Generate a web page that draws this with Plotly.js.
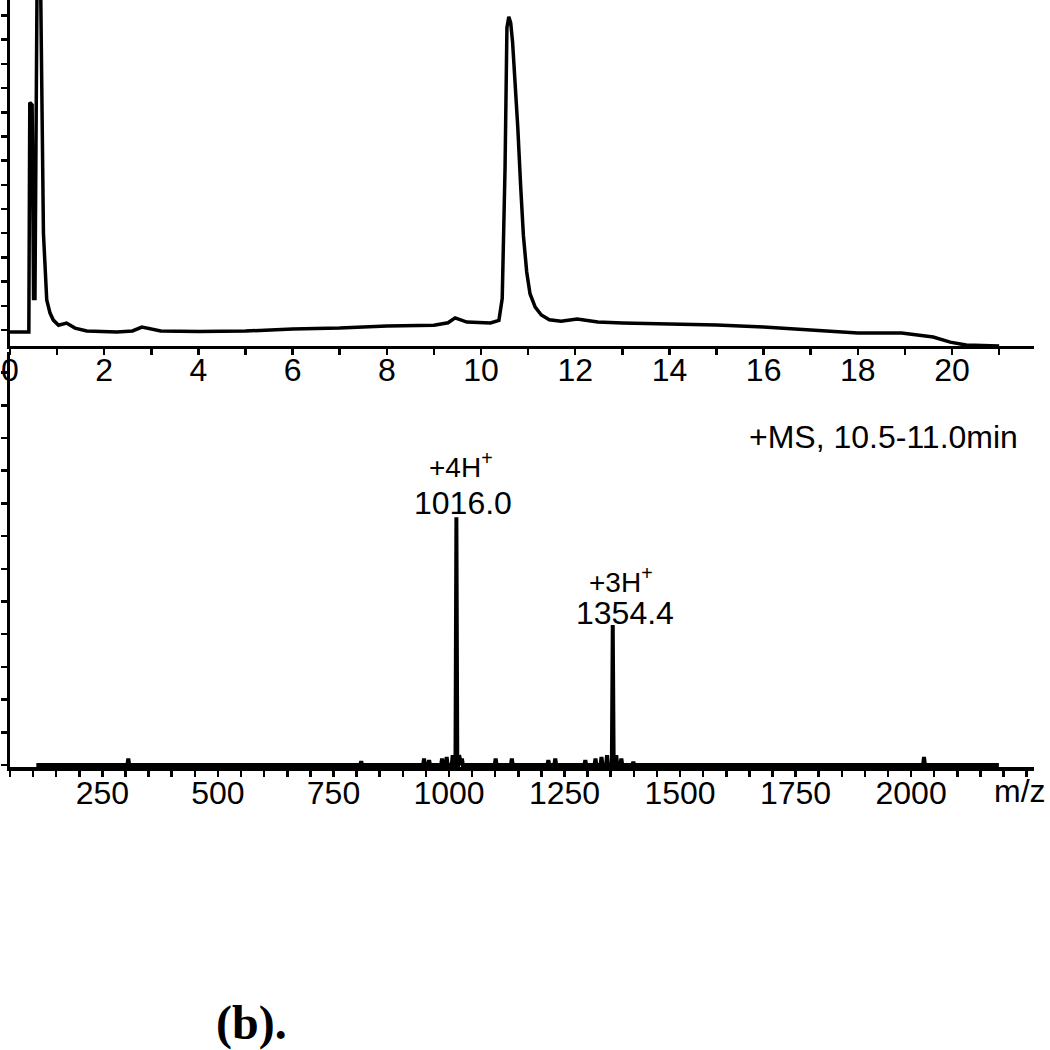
<!DOCTYPE html>
<html>
<head>
<meta charset="utf-8">
<script src="https://cdn.plot.ly/plotly-3.0.1.min.js"></script>
<style>
  html, body { margin: 0; padding: 0; background: #fff; }
  #chart { width: 1050px; height: 1050px; }
</style>
</head>
<body>
<div id="chart"></div>
<script>
// chromatogram (top): time in min, intensity in arbitrary units
const lcTime = [0, 0.38, 0.40, 0.42, 0.47, 0.50, 0.53, 0.58, 0.64, 0.71, 0.74, 0.78, 0.85, 0.92, 1.03, 1.2, 1.38, 1.63, 2.27, 2.6, 2.8, 3.2, 4, 5, 6, 7, 8, 9, 9.3, 9.45, 9.7, 10.2, 10.38, 10.45, 10.51, 10.55, 10.59, 10.63, 10.67, 10.72, 10.78, 10.84, 10.90, 10.97, 11.04, 11.15, 11.28, 11.45, 11.7, 12.04, 12.48, 13, 14, 15, 16, 17, 18, 18.93, 19.6, 19.96, 20.3, 21.0];
const lcSignal = [-0.08, -0.08, -0.08, 9.4, 9.3, 1.3, 1.3, 16, 16, 4.0, 2.4, 1.24, 0.7, 0.41, 0.2, 0.29, 0.08, -0.04, -0.08, -0.04, 0.12, -0.04, -0.06, -0.04, 0.04, 0.08, 0.17, 0.2, 0.3, 0.5, 0.33, 0.29, 0.4, 1.3, 6.7, 12.5, 12.95, 12.7, 11.9, 10.4, 8.4, 6.0, 3.9, 2.4, 1.5, 0.95, 0.62, 0.42, 0.36, 0.45, 0.33, 0.29, 0.25, 0.21, 0.12, 0, -0.12, -0.12, -0.29, -0.5, -0.62, -0.66];

// mass spectrum (bottom)
const msStart = 107, msEnd = 2190, msBase = 0.0;
const msPeaks = [306, 810, 946, 957, 985, 995, 1008, 1016.0, 1022, 1028, 1101, 1136, 1215, 1230, 1295, 1317, 1330, 1342, 1354.4, 1362, 1373, 1399, 2028];
const msHeights = [0.2, 0.12, 0.2, 0.15, 0.2, 0.25, 0.3, 7.58, 0.3, 0.2, 0.2, 0.2, 0.15, 0.2, 0.15, 0.2, 0.25, 0.3, 4.28, 0.3, 0.2, 0.1, 0.25];

const labelPeaks = [1016.0, 1354.4];
const labelHeights = [7.58, 4.28];
const mzLabels = ["1016.0", "1354.4"];
const chargeLabels = ["+4H", "+3H"];

const lcTicks = [0, 2, 4, 6, 8, 10, 12, 14, 16, 18, 20];
const msTicks = [250, 500, 750, 1000, 1250, 1500, 1750, 2000];

// stick spectrum
const msX = [msStart], msY = [msBase];
msPeaks.forEach((m, i) => {
  msX.push(m - 2, m, m + 2);
  msY.push(msBase, msHeights[i], msBase);
});
msX.push(msEnd); msY.push(msBase);

const FONT = "Liberation Sans, Arial, sans-serif";
const black = "#000";

const axisCommon = {
  showline: true, linecolor: black, linewidth: 3.5,
  ticks: "outside", ticklen: 6, tickwidth: 2.5, tickcolor: black,
  showgrid: false, zeroline: false, mirror: false,
  tickfont: { family: FONT, size: 32, color: black }
};

const traces = [
  { type: "scatter", mode: "lines", x: lcTime, y: lcSignal, xaxis: "x", yaxis: "y",
    line: { color: black, width: 3.5 }, hoverinfo: "skip" },
  { type: "scatter", mode: "lines", x: msX, y: msY, xaxis: "x2", yaxis: "y2",
    line: { color: black, width: 4 }, hoverinfo: "skip" }
];

const annotations = [];
labelPeaks.forEach((m, i) => {
  annotations.push({ xref: "x2", yref: "y2", x: m, y: labelHeights[i], text: mzLabels[i],
    showarrow: false, xanchor: "center", yanchor: "middle", xshift: i ? 12 : 7, yshift: i ? 12 : 14,
    font: { family: FONT, size: 32, color: black } });
  annotations.push({ xref: "x2", yref: "y2", x: m, y: labelHeights[i], text: chargeLabels[i] + "<sup>+</sup>",
    showarrow: false, xanchor: "center", yanchor: "middle", xshift: i ? 8 : 5, yshift: i ? 45 : 52,
    font: { family: FONT, size: 28, color: black } });
});
annotations.push({ xref: "paper", yref: "paper", x: 0.986, y: 0.430, text: "+MS, 10.5-11.0min",
  showarrow: false, xanchor: "right", yanchor: "middle", font: { family: FONT, size: 32, color: black } });
annotations.push({ xref: "paper", yref: "paper", x: 0.986, y: -0.0313, text: "m/z",
  showarrow: false, xanchor: "center", yanchor: "middle", font: { family: FONT, size: 32, color: black } });
annotations.push({ xref: "paper", yref: "paper", x: 0.2354, y: -0.334, text: "<b>(b).</b>",
  showarrow: false, xanchor: "center", yanchor: "middle", font: { family: "Liberation Serif, Times New Roman, serif", size: 48, color: black } });

const layout = {
  width: 1050, height: 1050,
  margin: { l: 10, r: 16, t: 0, b: 283 },
  paper_bgcolor: "#fff", plot_bgcolor: "#fff",
  showlegend: false,
  xaxis: Object.assign({}, axisCommon, {
    domain: [0, 1], range: [0, 21.74], anchor: "y",
    tickmode: "array", tickvals: lcTicks, ticklabelstandoff: -13,
    minor: { dtick: 1, tick0: 0, ticks: "outside", ticklen: 6, tickwidth: 2.5, tickcolor: black }
  }),
  yaxis: Object.assign({}, axisCommon, {
    domain: [0.5489, 1], range: [-0.66, 13.64], anchor: "x",
    dtick: 1, tick0: 0, showticklabels: false
  }),
  xaxis2: Object.assign({}, axisCommon, {
    domain: [0, 1], range: [50, 2266], anchor: "y2",
    tickmode: "array", tickvals: msTicks, ticklabelstandoff: -11,
    minor: { dtick: 50, tick0: 0, ticks: "outside", ticklen: 6, tickwidth: 2.5, tickcolor: black }
  }),
  yaxis2: Object.assign({}, axisCommon, {
    domain: [0, 0.5411], range: [-0.06, 12.63], anchor: "x2",
    dtick: 1, tick0: 0, showticklabels: false
  }),
  annotations: annotations
};

Plotly.newPlot("chart", traces, layout, { staticPlot: true, displayModeBar: false });
</script>
</body>
</html>
